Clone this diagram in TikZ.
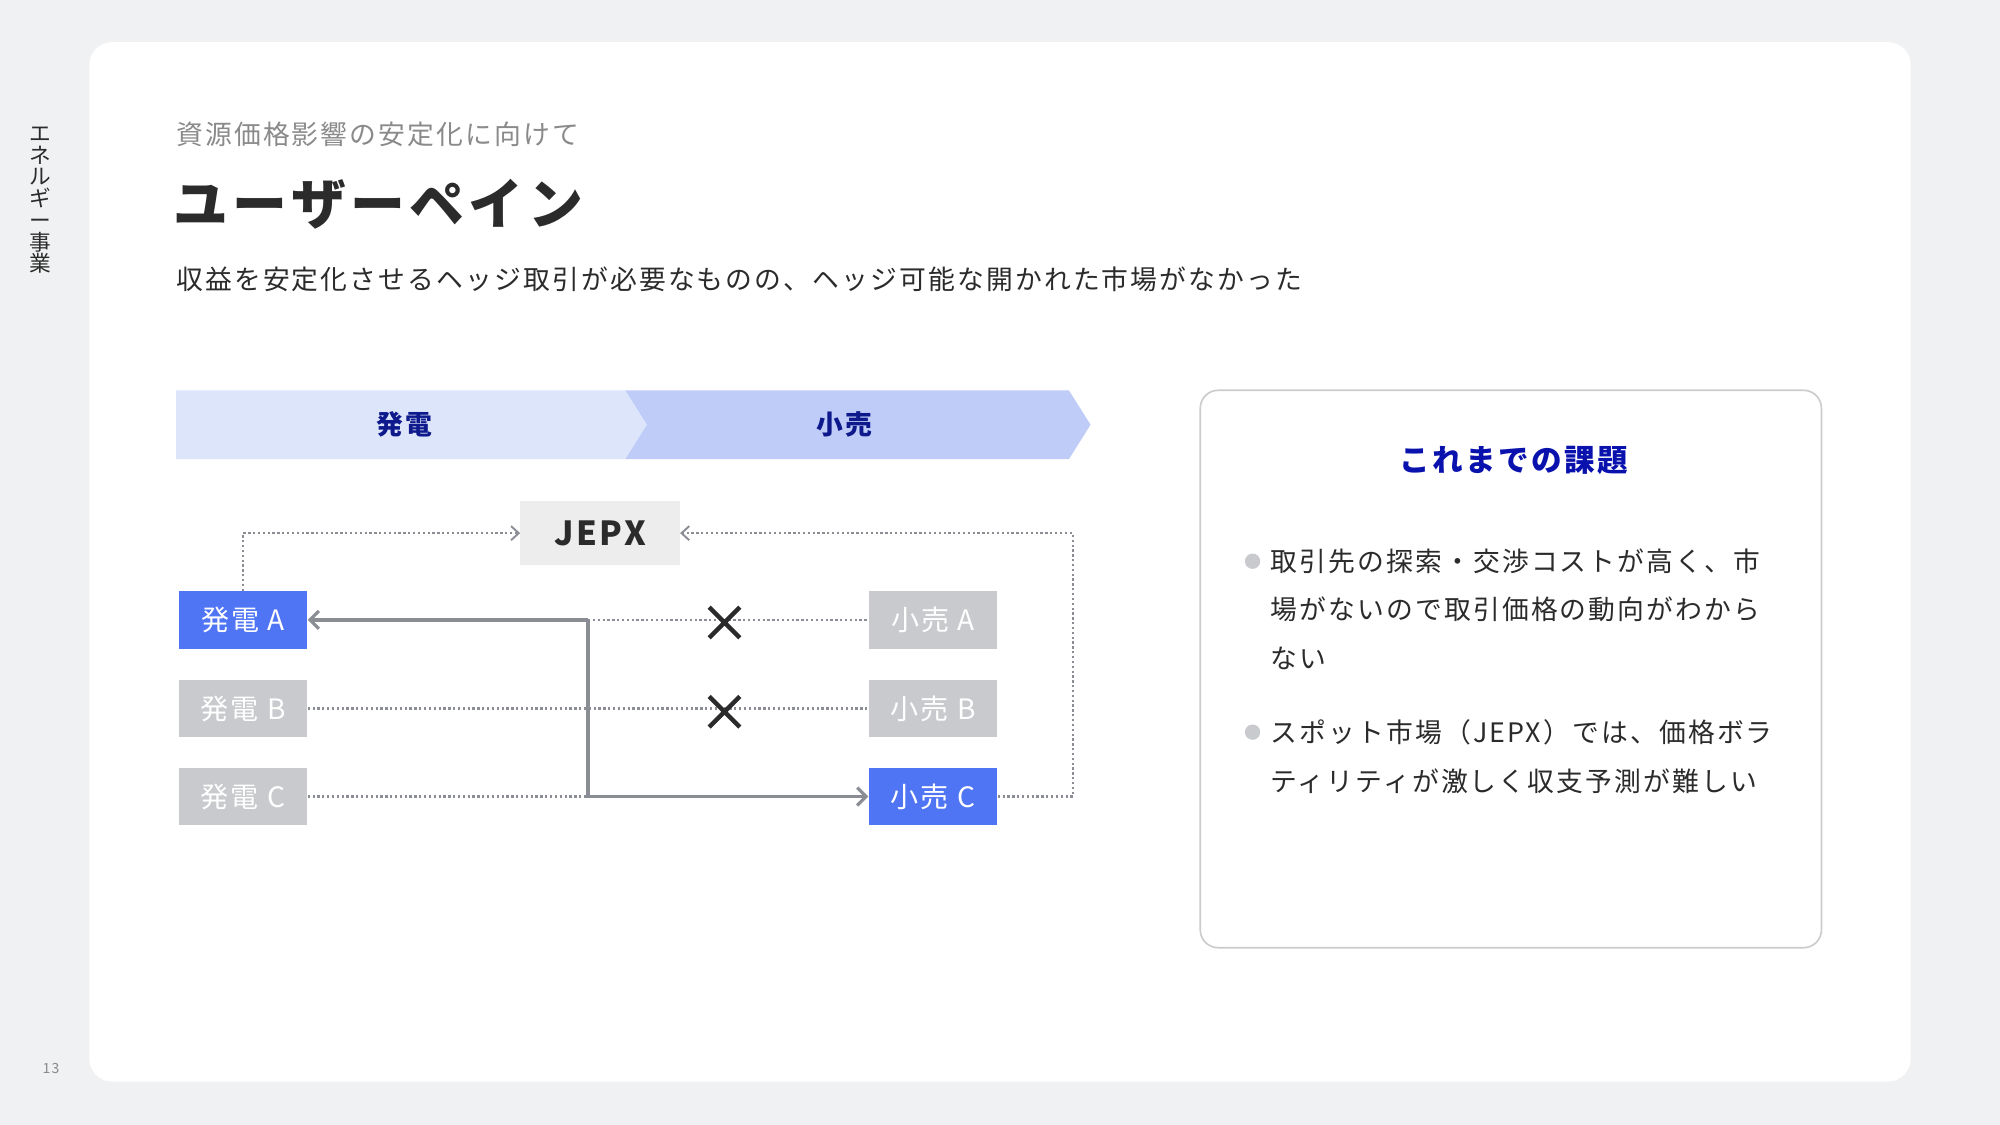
\documentclass[tikz,border=0pt]{standalone}
\usepackage{fontspec}
\setmainfont{Noto Sans CJK JP}[LetterSpace=8]
\usetikzlibrary{arrows.meta,calc}
\definecolor{bgc}{HTML}{F0F1F3}
\definecolor{blu}{HTML}{4F75F5}
\definecolor{gry}{HTML}{C8CACD}
\definecolor{lin}{HTML}{8A8E94}
\definecolor{navy}{HTML}{0E1A8C}
\definecolor{ban1}{HTML}{DDE5FB}
\definecolor{ban2}{HTML}{BFCCF8}
\definecolor{txt}{HTML}{2B2B2B}
\definecolor{sub}{HTML}{8A8A8A}
\tikzset{
 fs/.style={font=\fontsize{#1}{#1}\selectfont},
 bfs/.style={font=\fontsize{#1}{#1}\selectfont\bfseries},
 box/.style={minimum width=101pt,minimum height=45pt,inner sep=0pt,text=white,fs=22},
 bbox/.style={box,fill=blu},
 gbox/.style={box,fill=gry},
 dot/.style={draw=lin,line width=1.8pt,dotted},
 sol/.style={draw=lin,line width=3pt},
 opentip/.style={-{Straight Barb[length=6pt,width=11pt,line width=1.5pt]}},
 cross/.style={line width=3.5pt,draw=txt}
}
\begin{document}
\begin{tikzpicture}[x=1pt,y=-1pt]
\useasboundingbox (0,0) rectangle (1568,882);
\fill[bgc] (0,0) rectangle (1568,882);
\fill[white,rounded corners=18pt] (70,33) rectangle (1498,848);
\node[fs=17,text=txt,align=center,inner sep=0pt] (side) at (32,157) {エ\\ネ\\ル\\ギ\\ー\\事\\業};
\node[fs=11,text=sub] (pg) at (40,838) {13};
\node[fs=21,text=sub,anchor=west,inner sep=0pt] (st) at (138,105) {資源価格影響の安定化に向けて};
\node[bfs=43,text=txt,anchor=west,inner sep=0pt] (tt) at (136,160) {ユーザーペイン};
\node[fs=21,text=txt,anchor=west,inner sep=0pt] (ds) at (138,219) {収益を安定化させるヘッジ取引が必要なものの、ヘッジ可能な開かれた市場がなかった};
% banners
\fill[ban2] (490,306) -- (838,306) -- (855,333) -- (838,360) -- (490,360) -- (507,333) -- cycle;
\fill[ban1] (138,306) -- (490,306) -- (507,333) -- (490,360) -- (138,360) -- cycle;
\node[bfs=21,text=navy] (b1) at (317,333) {発電};
\node[bfs=21,text=navy] (b2) at (662,333) {小売};
% nodes
\node[fill=black!7,minimum width=125pt,minimum height=50pt,bfs=26,text=txt] (jepx) at (470.5,418) {JEPX};
\node[bbox] (ga) at (190.5,486) {発電 A};
\node[gbox] (gb) at (190.5,555.5) {発電 B};
\node[gbox] (gc) at (190.5,624.5) {発電 C};
\node[gbox] (ra) at (731.5,486) {小売 A};
\node[gbox] (rb) at (731.5,555.5) {小売 B};
\node[bbox] (rc) at (731.5,624.5) {小売 C};
\coordinate (j1) at (461,486);
\coordinate (j2) at (461,624.5);
% dotted
\draw[dot,opentip] (ga.north) |- (jepx.west);
\draw[dot,opentip] (rc.east) -- (841,624.5) |- (jepx.east);
\draw[dot] (j1) -- (ra.west);
\draw[dot] (gb.east) -- (rb.west);
\draw[dot] (gc.east) -- (j2);
% solid
\draw[sol,-{Straight Barb[length=7pt,width=14pt,line width=2.5pt]}] (j1) -- (ga.east);
\draw[sol,-{Straight Barb[length=7pt,width=14pt,line width=2.5pt]}] (j1) -- (j2) -- (rc.west);
% crosses
\coordinate (x1) at (568,488);
\coordinate (x2) at (568,558);
\draw[cross] ($(x1)+(-12,-12)$) -- ($(x1)+(12,12)$) ($(x1)+(-12,12)$) -- ($(x1)+(12,-12)$);
\draw[cross] ($(x2)+(-12,-12)$) -- ($(x2)+(12,12)$) ($(x2)+(-12,12)$) -- ($(x2)+(12,-12)$);
% right box
\draw[black!20,line width=1.3pt,rounded corners=14pt] (941,306) rectangle (1428,743);
\node[bfs=24,text=navy!70!blue] (kt) at (1187,361) {これまでの課題};
\fill[gry] (982,440) circle (6pt);
\fill[gry] (982,574) circle (6pt);
\node[text=txt,anchor=north west,align=left,inner sep=0pt,text width=420pt,font=\fontsize{21}{38}\selectfont] (p1) at (996,430) {取引先の探索・交渉コストが高く、市\\場がないので取引価格の動向がわから\\ない};
\node[text=txt,anchor=north west,align=left,inner sep=0pt,text width=420pt,font=\fontsize{21}{38}\selectfont] (p2) at (996,564) {スポット市場（JEPX）では、価格ボラ\\ティリティが激しく収支予測が難しい};
\end{tikzpicture}
\end{document}
